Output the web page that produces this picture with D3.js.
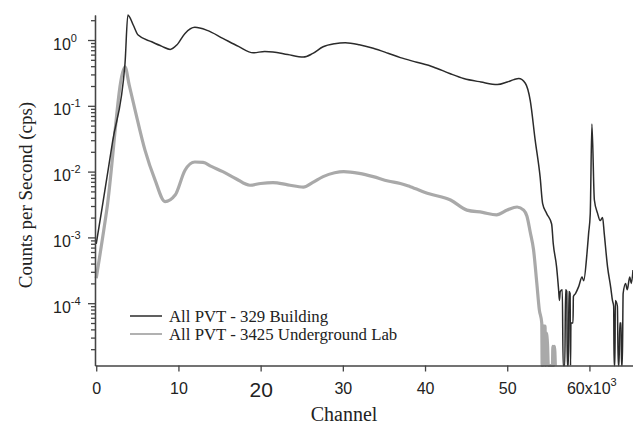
<!DOCTYPE html>
<html>
  <head>
    <meta charset="utf-8">
    <title></title>
    <script type="text/javascript" src="https://d3js.org/d3.v7.min.js"></script>
    <style media="screen">
      body { margin: 0; background: #fff; }
      .axis path, .axis line { stroke: #444; stroke-width: 1.3; }
      .ticklbl { font-family: "Liberation Sans", Arial, sans-serif; font-size: 16px; fill: #222; }
      .title { font-family: "Liberation Serif", "Times New Roman", serif; fill: #222; }
    </style>
  </head>
  <body>
    <div class="vis">
    </div>
    <script type="text/javascript">
      // channel in units of 10^3, counts per second
      var bldgChannel = [0, 0.67, 2.0, 3.5, 3.85, 4.5, 5.1, 6.75, 8.0, 9.0, 9.8, 10.8, 12.0, 13.5, 15.4, 17.3, 19.1,
        20.5, 21.5, 23.3, 25.2, 26.3, 27.6, 29.0, 30.3, 32.0, 33.7, 35.5, 37.0, 39.0, 41.0, 43.0, 44.7,
        46.8, 48.8, 50.0, 50.8, 51.4, 52.2, 52.8, 53.4, 54.0, 54.3, 54.8, 55.4, 55.6, 56.0, 56.25, 56.35,
        56.45, 56.7, 56.8, 57.0, 57.1, 57.25, 57.3, 57.45, 57.5, 57.65, 57.7, 57.75, 58.0, 58.05, 58.3,
        58.7, 59.1, 59.3, 59.7, 59.9, 60.1, 60.3, 60.6, 61.0, 61.3, 61.6, 61.8, 62.2, 62.6, 62.8, 62.95,
        63.0, 63.1, 63.15, 63.4, 63.5, 63.6, 63.7, 63.85, 63.9, 64.0, 64.1, 64.4, 64.6, 64.9, 65.1, 65.3];
      var bldgCps = [8e-4, 0.0026, 0.029, 0.44, 2.4, 1.69, 1.19, 0.94, 0.80, 0.72, 0.84, 1.26, 1.56, 1.40, 1.06, 0.80, 0.64,
        0.67, 0.66, 0.60, 0.55, 0.62, 0.79, 0.88, 0.91, 0.85, 0.75, 0.63, 0.54, 0.46, 0.39, 0.31, 0.26,
        0.23, 0.21, 0.23, 0.25, 0.26, 0.22, 0.12, 0.030, 0.0083, 0.0033, 0.0023, 0.0016, 8e-4, 3.6e-4, 1.6e-4, 1.1e-4,
        1.5e-4, 1.6e-4, 0, 0, 1.6e-4, 1.5e-4, 0, 0, 1.5e-4, 1.4e-4, 0, 5e-5, 5e-5, 1.26e-4, 1.4e-4,
        1.8e-4, 2.5e-4, 2.2e-4, 5.7e-4, 1.15e-3, 2.3e-3, 0.053, 3.7e-3, 2.3e-3, 1.8e-3, 2e-3, 1.15e-3, 3.6e-4, 1.7e-4, 1.1e-4, 9e-5,
        0, 0, 1.1e-4, 9e-5, 0, 0, 5e-5, 5e-5, 0, 0, 1.4e-4, 2e-4, 1.6e-4, 2.5e-4, 2e-4, 3.2e-4];

      var labChannel = [0, 1.28, 3.5, 4.0, 4.72, 5.94, 7.15, 8.37, 9.6, 10.8, 12.0, 13.0,
        14.0, 15.4, 17.0, 18.7, 20.0, 21.5, 23.3, 25.2, 26.3, 27.6, 29.0, 30.1, 32.0, 33.7, 35.5, 37.0,
        38.2, 40.5, 43.1, 45.1, 47.0, 48.7, 50.0, 51.2, 52.0, 52.4, 52.8, 53.2, 53.6, 53.9, 54.2, 54.25,
        54.35, 54.4, 54.6, 54.65, 54.7, 54.75, 54.9, 55.0, 55.5, 55.55, 55.65, 55.75, 55.85];
      var labCps = [2.4e-4, 0.0026, 0.39, 0.21, 0.087, 0.021, 0.0075, 0.0035, 0.0044, 0.0105, 0.014, 0.0138,
        0.012, 0.010, 0.0078, 0.0062, 0.0066, 0.0068, 0.0063, 0.0058, 0.0068, 0.0084, 0.0096, 0.010, 0.0094, 0.0084, 0.0072, 0.0066,
        0.0059, 0.0046, 0.0037, 0.0026, 0.0024, 0.0022, 0.0026, 0.0029, 0.0026, 0.0021, 0.0012, 6.5e-4, 2e-4, 8e-5, 5e-5, 0,
        0, 4.5e-5, 4.5e-5, 0, 0, 3.5e-5, 2.4e-5, 0, 0, 2.2e-5, 0, 2.2e-5, 0];

      var xTicks = [0, 10, 20, 30, 40, 50, 60];
      var xTickLabels = ["0", "10", "20", "30", "40", "50", "60x10"];
      var yExponents = [0, -1, -2, -3, -4];

      var seriesNames = ["All PVT - 329 Building", "All PVT - 3425 Underground Lab"];
      var seriesColors = ["#2b2b2b", "#a9a9a9"];

      var w = 633;
      var h = 428;

      var x = d3.scaleLinear().domain([-0.15, 65.3]).range([95, 633]);
      var yMin = 1.13e-5;
      var y = d3.scaleLog().domain([yMin, 2.4]).range([365.5, 15]);

      var svg = d3.select('.vis')
        .append('svg')
        .attr('width', w)
        .attr('height', h);

      var line = d3.line()
        .x(function(d){ return x(d[0]); })
        .y(function(d){ return y(Math.max(d[1], yMin)); })
        .curve(d3.curveMonotoneX);

      var lab = d3.zip(labChannel, labCps);
      var bldg = d3.zip(bldgChannel, bldgCps);

      svg.append('path')
        .datum(lab)
        .attr('d', line)
        .attr('fill', 'none')
        .attr('stroke', seriesColors[1])
        .attr('stroke-width', 3.2)
        .attr('stroke-linejoin', 'round');

      svg.append('path')
        .datum(bldg)
        .attr('d', line)
        .attr('fill', 'none')
        .attr('stroke', seriesColors[0])
        .attr('stroke-width', 1.5)
        .attr('stroke-linejoin', 'round');

      // y axis: minor ticks then major
      var minor = [];
      for (var e = -5; e <= 0; e++) {
        for (var m = 2; m <= 9; m++) {
          var v = m * Math.pow(10, e);
          if (v >= yMin && v <= 2.4) minor.push(v);
        }
      }
      svg.append('g')
        .attr('class', 'axis')
        .attr('transform', 'translate(95,0)')
        .call(d3.axisLeft(y).tickValues(minor).tickSize(4).tickSizeOuter(0).tickFormat(''));

      var majors = yExponents.map(function(p){ return Math.pow(10, p); });
      var yAxisG = svg.append('g')
        .attr('class', 'axis')
        .attr('transform', 'translate(95,0)')
        .call(d3.axisLeft(y).tickValues(majors).tickSize(7).tickSizeOuter(0).tickFormat(''));
      yAxisG.selectAll('.tick').each(function(d, i) {
        var t = d3.select(this).append('text')
          .attr('class', 'ticklbl')
          .attr('x', -42)
          .attr('y', 9)
          .attr('text-anchor', 'start')
          .attr('fill', '#222');
        t.append('tspan').text('10');
        t.append('tspan').attr('dy', -8).attr('font-size', '11px').text(yExponents[i]);
      });

      var xAxisG = svg.append('g')
        .attr('class', 'axis')
        .attr('transform', 'translate(0,365.5)')
        .call(d3.axisBottom(x).tickValues(xTicks).tickSize(6).tickSizeOuter(0).tickFormat(''));
      xAxisG.selectAll('.tick').each(function(d, i) {
        var big = xTicks[i] === 20;
        var t = d3.select(this).append('text')
          .attr('class', 'ticklbl')
          .attr('y', big ? 31.8 : 28.4)
          .attr('text-anchor', 'middle')
          .attr('fill', '#222')
          .style('font-size', big ? '21px' : '16px');
        t.append('tspan').text(xTickLabels[i]);
        if (i === xTicks.length - 1) {
          t.attr('text-anchor', 'start').attr('x', -23);
          t.append('tspan').attr('dy', -8).attr('font-size', '11px').text('3');
        }
      });
      svg.selectAll('.axis .domain').attr('stroke', '#444').attr('stroke-width', 1.5);

      // axis titles
      svg.append('text')
        .attr('class', 'title')
        .attr('transform', 'translate(32,195) rotate(-90)')
        .attr('text-anchor', 'middle')
        .style('font-size', '19px')
        .text('Counts per Second (cps)');
      svg.append('text')
        .attr('class', 'title')
        .attr('x', 344)
        .attr('y', 421)
        .attr('text-anchor', 'middle')
        .style('font-size', '20px')
        .text('Channel');

      // legend
      var legend = svg.append('g').attr('transform', 'translate(130,316)');
      seriesNames.forEach(function(name, i) {
        legend.append('line')
          .attr('x1', 0).attr('x2', 32)
          .attr('y1', i * 18).attr('y2', i * 18)
          .attr('stroke', seriesColors[i])
          .attr('stroke-width', i === 0 ? 1.5 : 1.8);
        legend.append('text')
          .attr('class', 'title')
          .attr('x', 39)
          .attr('y', i * 18 + 5.5)
          .style('font-size', '16.8px')
          .text(name);
      });
    </script>
  </body>
</html>
